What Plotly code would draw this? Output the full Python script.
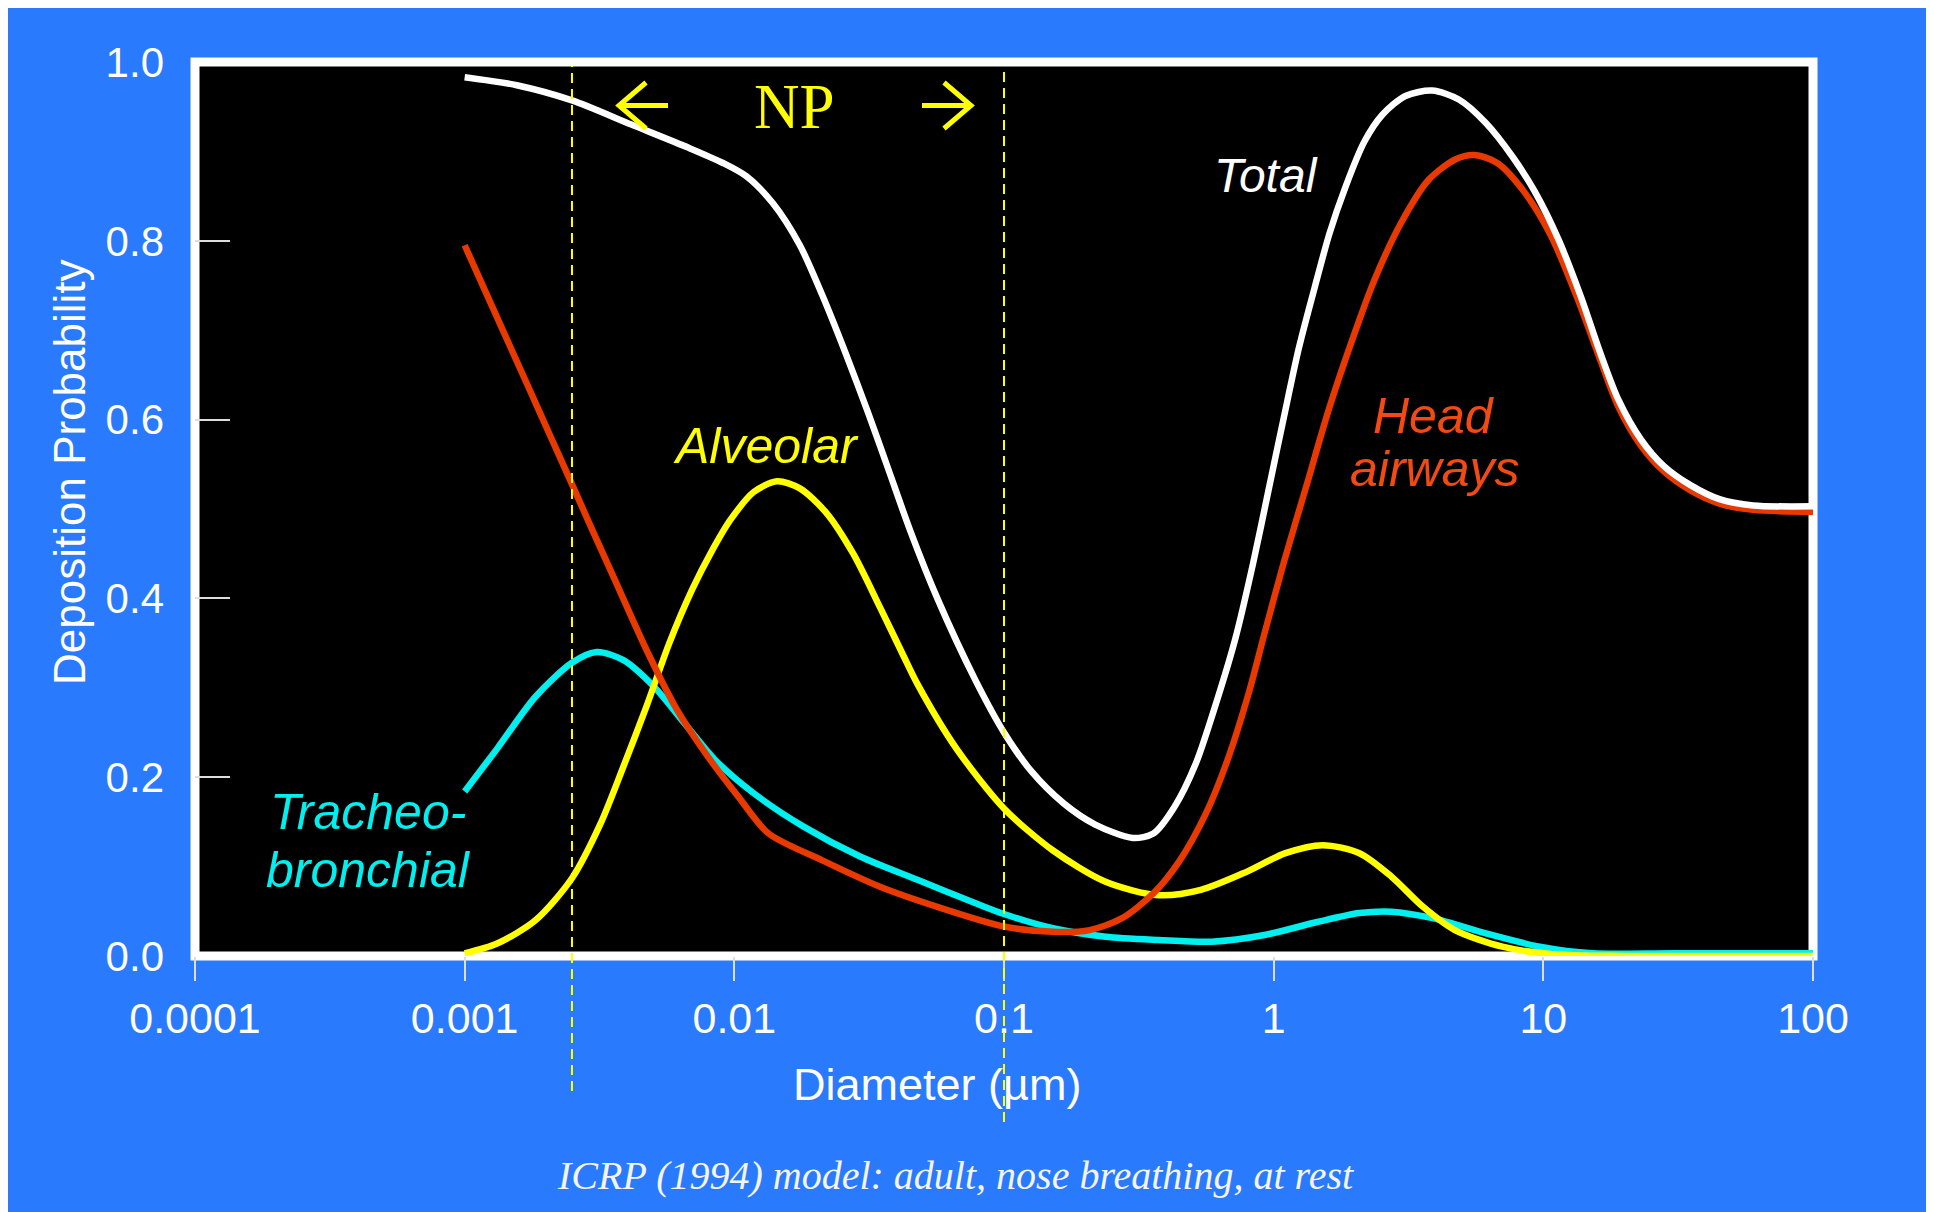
import plotly.graph_objects as go

# ---------------- data ----------------
total_d = [0.001, 0.00156, 0.0025, 0.00415, 0.00677, 0.00908, 0.0111, 0.0139, 0.0175, 0.0212,
           0.0258, 0.0314, 0.037, 0.045, 0.0566, 0.0785, 0.1, 0.126, 0.166, 0.218, 0.30, 0.358,
           0.429, 0.514, 0.615, 0.721, 0.84, 0.957, 1.09, 1.24, 1.42, 1.61, 1.84, 2.17, 2.53,
           3.08, 3.87, 4.86, 6.11, 7.69, 9.3, 11.4, 13.8, 16.2, 19.0, 23.0, 28.0, 35.0, 45, 60, 100]
total_v = [0.983, 0.974, 0.957, 0.930, 0.904, 0.887, 0.872, 0.842, 0.795, 0.739,
           0.675, 0.607, 0.547, 0.475, 0.400, 0.308, 0.250, 0.207, 0.171, 0.147, 0.132, 0.137,
           0.167, 0.215, 0.285, 0.355, 0.440, 0.521, 0.602, 0.680, 0.748, 0.808, 0.859, 0.911, 0.941,
           0.962, 0.968, 0.958, 0.932, 0.894, 0.855, 0.801, 0.737, 0.676, 0.622, 0.578, 0.548, 0.527, 0.511, 0.504, 0.503]

head_d = [0.001, 0.00132, 0.00172, 0.00209, 0.00248, 0.00299, 0.00364, 0.00473, 0.00614, 0.00798,
          0.01036, 0.0134, 0.0212, 0.0347, 0.0566, 0.1, 0.152, 0.208, 0.273, 0.358, 0.449, 0.562,
          0.674, 0.808, 0.925, 1.09, 1.32, 1.60, 1.95, 2.37, 2.98, 3.75, 4.71, 5.55, 6.75, 8.48,
          10.7, 13.4, 16.2, 19.0, 23.0, 28.0, 35.0, 45, 60, 100]
head_v = [0.795, 0.714, 0.637, 0.580, 0.530, 0.475, 0.418, 0.342, 0.275, 0.223,
          0.178, 0.137, 0.107, 0.0775, 0.055, 0.033, 0.027, 0.029, 0.042, 0.070, 0.107, 0.160,
          0.219, 0.294, 0.361, 0.440, 0.525, 0.611, 0.688, 0.757, 0.821, 0.868, 0.891, 0.896, 0.887, 0.855,
          0.805, 0.735, 0.668, 0.614, 0.571, 0.542, 0.521, 0.506, 0.499, 0.497]

alv_d = [0.001, 0.00132, 0.00183, 0.0025, 0.00319, 0.00388, 0.00472, 0.00574, 0.00698, 0.00822,
         0.00968, 0.0118, 0.0144, 0.0175, 0.0219, 0.0276, 0.0347, 0.0422, 0.048, 0.0666, 0.1,
         0.152, 0.238, 0.374, 0.537, 0.771, 1.106, 1.52, 2.08, 2.73, 3.58, 4.70, 7.05, 10.8, 20, 50, 100]
alv_v = [0.003, 0.014, 0.040, 0.087, 0.148, 0.212, 0.279, 0.350, 0.410, 0.452,
         0.488, 0.519, 0.531, 0.523, 0.496, 0.450, 0.390, 0.337, 0.303, 0.232, 0.165,
         0.118, 0.083, 0.068, 0.074, 0.0925, 0.115, 0.124, 0.115, 0.089, 0.055, 0.029, 0.0104, 0.002, 0.0, 0.0, 0.0]

tb_d = [0.001, 0.00132, 0.00183, 0.0025, 0.00309, 0.00388, 0.00505, 0.00655, 0.00851, 0.0118,
        0.018, 0.0294, 0.048, 0.0785, 0.1, 0.152, 0.238, 0.374, 0.589, 0.925, 1.45, 2.08, 2.73,
        3.92, 6.17, 9.7, 15.2, 30, 100]
tb_v = [0.184, 0.232, 0.290, 0.328, 0.340, 0.331, 0.301, 0.260, 0.219, 0.182,
        0.145, 0.111, 0.085, 0.059, 0.047, 0.031, 0.0216, 0.018, 0.016, 0.0235, 0.038, 0.048, 0.0496,
        0.042, 0.025, 0.0104, 0.003, 0.003, 0.003]

np_bounds = [0.0025, 0.1]

x_tickvals = [0.0001, 0.001, 0.01, 0.1, 1, 10, 100]
x_ticktext = ["0.0001", "0.001", "0.01", "0.1", "1", "10", "100"]
y_tickvals = [0.0, 0.2, 0.4, 0.6, 0.8, 1.0]
y_ticktext = ["0.0", "0.2", "0.4", "0.6", "0.8", "1.0"]

# ---------------- styling ----------------
PAGE_OFF = 8                      # default body margin of the html page
W, H = 1934 - PAGE_OFF, 1212 - PAGE_OFF
# plot area edges in screen pixels
L, R, T, B = 195, 1813, 62, 956
BLUE = "#2A7AFE"
RED = "#E83A00"
YEL = "#FFFF00"
CYAN = "#00F0F0"
SANS = "Liberation Sans, Arial, sans-serif"
SERIF = "Liberation Serif, Times New Roman, serif"


def px(xs):
    return (xs - L) / (R - L)


def py(ys):
    return (B - ys) / (B - T)


fig = go.Figure()
for d, v, c in [(tb_d, tb_v, CYAN), (alv_d, alv_v, YEL), (head_d, head_v, RED), (total_d, total_v, "#FFFFFF")]:
    fig.add_trace(go.Scatter(x=d, y=v, mode="lines", line=dict(color=c, width=6.5, shape="spline", smoothing=0.8),
                             hoverinfo="skip", showlegend=False))

shapes = [
    # white frame around the plot area
    dict(type="rect", xref="paper", yref="paper", x0=0, x1=1, y0=0, y1=1,
         line=dict(color="white", width=9), fillcolor="rgba(0,0,0,0)", layer="below"),
]
for xb, ybot in zip(np_bounds, [1091, 1122]):
    shapes.append(dict(type="line", xref="x", yref="paper", x0=xb, x1=xb, y0=py(ybot), y1=py(66),
                       line=dict(color=YEL, width=2, dash="10px,6px"), layer="above"))


def arrow_path(tip_x, tail_x, head_x, yc, half_h):
    return (f"M {px(tail_x)},{py(yc)} L {px(tip_x)},{py(yc)} "
            f"M {px(head_x)},{py(yc - half_h)} L {px(tip_x)},{py(yc)} L {px(head_x)},{py(yc + half_h)}")


shapes.append(dict(type="path", xref="paper", yref="paper", path=arrow_path(619, 668, 646, 105.5, 23),
                   line=dict(color=YEL, width=5), layer="above"))
shapes.append(dict(type="path", xref="paper", yref="paper", path=arrow_path(971, 922, 944, 105.5, 23),
                   line=dict(color=YEL, width=5), layer="above"))

ann = []


def add_text(text, xs, ys, size, color, family=SANS, style="normal", angle=0):
    ann.append(dict(text=text, xref="paper", yref="paper", x=px(xs), y=py(ys), xanchor="center",
                    yanchor="middle", showarrow=False, textangle=angle,
                    font=dict(family=family, size=size, color=color, style=style)))


add_text("Deposition Probability", 69, 472, 44, "white", angle=-90)
add_text("Diameter (µm)", 937, 1084, 45, "white")
add_text("ICRP (1994) model: adult, nose breathing, at rest", 955, 1175, 40, "#F4F4F4", family=SERIF, style="italic")
add_text("NP", 794, 107, 63, YEL, family=SERIF)
add_text("Total", 1266, 175, 48, "white", style="italic")
add_text("Head", 1434, 416, 50, "#F24A12", style="italic")
add_text("airways", 1434, 469, 50, "#F24A12", style="italic")
add_text("Alveolar", 766, 446, 50, YEL, style="italic")
add_text("Tracheo-", 368, 812, 50, CYAN, style="italic")
add_text("bronchial", 368, 870, 50, CYAN, style="italic")

fig.update_layout(
    width=W, height=H, autosize=False,
    margin=dict(l=L - PAGE_OFF, r=W - (R - PAGE_OFF), t=T - PAGE_OFF, b=H - (B - PAGE_OFF), pad=0),
    paper_bgcolor=BLUE, plot_bgcolor="black",
    shapes=shapes, annotations=ann,
    font=dict(family=SANS, color="white"),
)
fig.update_xaxes(type="log", range=[-4, 2], tickvals=x_tickvals, ticktext=x_ticktext,
                 ticks="outside", ticklen=24, tickwidth=2, tickcolor="#DDDDDD",
                 showgrid=False, zeroline=False, showline=False,
                 tickfont=dict(family=SANS, size=43, color="white"), ticklabelstandoff=0)
fig.update_yaxes(range=[0, 1], tickvals=y_tickvals, ticktext=y_ticktext,
                 ticks="inside", ticklen=35, tickwidth=2, tickcolor="#DDDDDD",
                 showgrid=False, zeroline=False, showline=False,
                 tickfont=dict(family=SANS, size=42, color="white"), ticklabelstandoff=30)

fig.write_html("out.html")
